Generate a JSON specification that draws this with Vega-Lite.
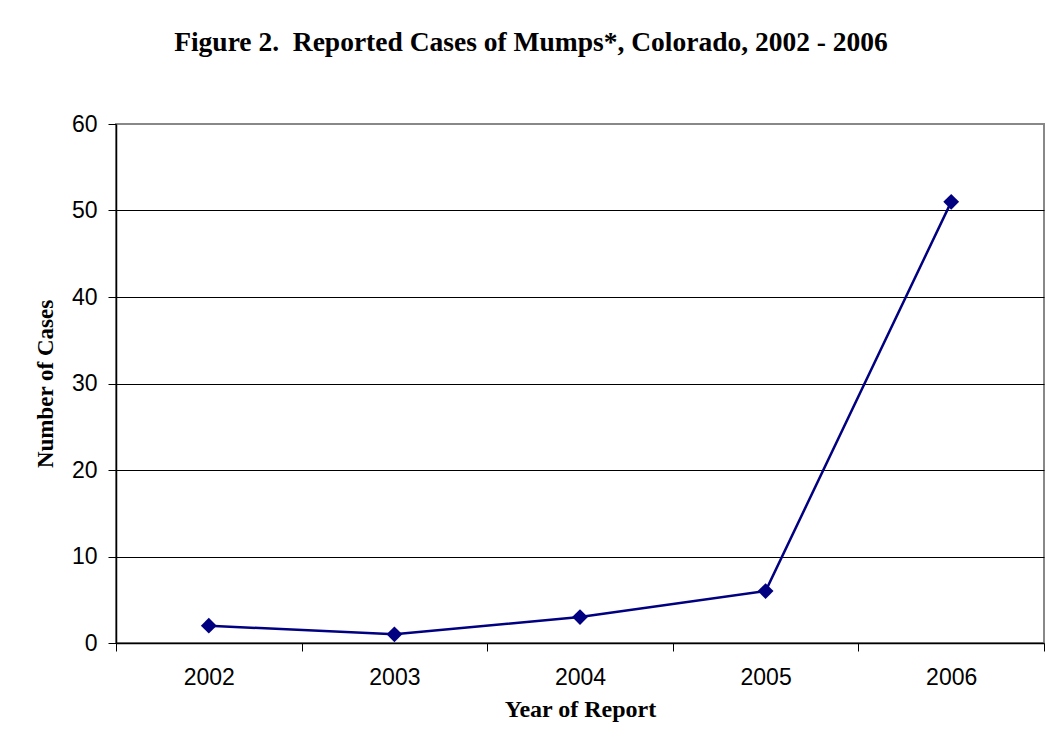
{
  "$schema": "https://vega.github.io/schema/vega-lite/v6.json",
  "autosize": "none",
  "width": 928,
  "height": 519,
  "padding": {"left": 116, "top": 124, "right": 8, "bottom": 113},
  "background": "white",
  "title": {
    "text": "Figure 2.\u00a0 Reported Cases of Mumps*, Colorado, 2002 - 2006",
    "font": "Liberation Serif",
    "fontSize": 27.5,
    "fontWeight": "bold",
    "color": "black",
    "anchor": "middle",
    "offset": 57,
    "dx": -49
  },
  "config": {
    "view": {"stroke": "#888888", "strokeWidth": 2},
    "axis": {
      "labelFont": "Liberation Sans",
      "labelFontSize": 23,
      "labelColor": "black",
      "titleFont": "Liberation Serif",
      "titleFontSize": 23,
      "titleFontWeight": "bold",
      "titleColor": "black",
      "domainColor": "black",
      "domainWidth": 1.5,
      "tickColor": "black",
      "tickSize": 8
    }
  },
  "data": {
    "values": [
      {"year": "2002", "cases": 2},
      {"year": "2003", "cases": 1},
      {"year": "2004", "cases": 3},
      {"year": "2005", "cases": 6},
      {"year": "2006", "cases": 51}
    ]
  },
  "encoding": {
    "x": {
      "field": "year",
      "type": "ordinal",
      "scale": {"paddingInner": 0, "paddingOuter": 0},
      "axis": {
        "title": "Year of Report",
        "titleFontSize": 24,
        "labelAngle": 0,
        "tickBand": "extent",
        "labelPadding": 15,
        "titlePadding": 8
      }
    },
    "y": {
      "field": "cases",
      "type": "quantitative",
      "scale": {"domain": [0, 60], "nice": false},
      "axis": {
        "title": "Number of Cases",
        "values": [0, 10, 20, 30, 40, 50, 60],
        "labelPadding": 11,
        "titlePadding": 14,
        "gridColor": "black",
        "gridOpacity": {"condition": {"test": "datum.value == 0 || datum.value == 60", "value": 0}, "value": 1}
      }
    }
  },
  "layer": [
    {"mark": {"type": "line", "color": "#000080", "strokeWidth": 2.5}},
    {"mark": {"type": "point", "shape": "diamond", "filled": true, "color": "#000080", "opacity": 1, "size": 250}}
  ]
}
